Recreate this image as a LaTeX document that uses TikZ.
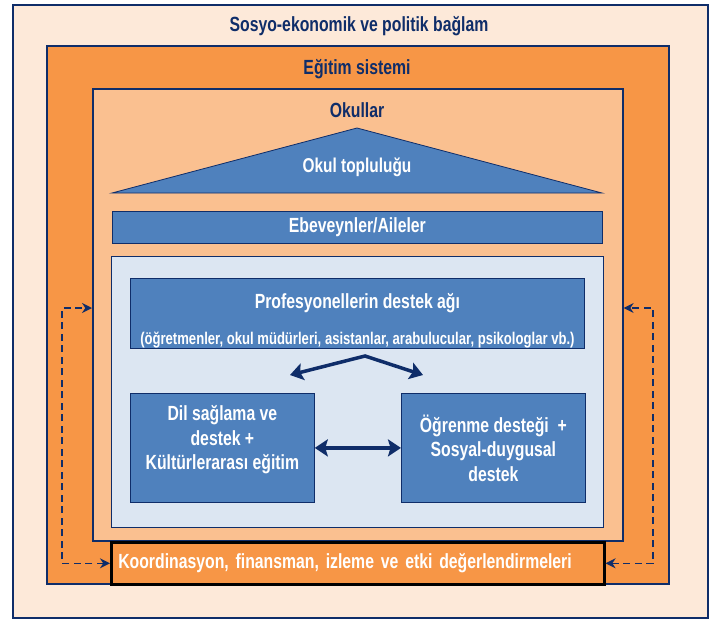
\documentclass[tikz,border=0pt]{standalone}
\usepackage{fontspec}
\setmainfont{Liberation Sans}[FakeStretch=0.77]
\usetikzlibrary{arrows.meta}
\definecolor{navy}{HTML}{0F2D69}
\definecolor{peach}{HTML}{FDE9D9}
\definecolor{orng}{HTML}{F79646}
\definecolor{lorng}{HTML}{FAC090}
\definecolor{steel}{HTML}{4F81BD}
\definecolor{ice}{HTML}{DCE6F2}
\begin{document}
\begin{tikzpicture}[x=1pt,y=-1pt,font=\bfseries,
	layer/.style={draw=navy,line width=1.6pt,anchor=north west,inner sep=0pt},
	bluebox/.style={draw=navy,fill=steel,line width=0.8pt,anchor=north west,text=white,inner sep=0pt,align=center,font=\bfseries\fontsize{20.5}{24.5}\selectfont},
	heading/.style={text=navy,font=\bfseries\fontsize{20.5}{24}\selectfont},
	twoway/.style={navy,line width=3.5pt,{Stealth[length=13pt,width=17pt,inset=2.5pt]}-{Stealth[length=13pt,width=17pt,inset=2.5pt]}},
	feedback/.style={navy,line width=1.6pt,dash pattern=on 7pt off 4.5pt,{Stealth[length=10pt,width=10pt]}-{Stealth[length=10pt,width=10pt]}}]
	\fill[white] (0,0) rectangle (718,619);
	\path[use as bounding box] (0,0) rectangle (718,619);
	\node[layer,fill=peach,minimum width=695pt,minimum height=613pt] (ctx) at (12,4) {};
	\node[heading] (ctxT) at (359,26) {Sosyo-ekonomik ve politik bağlam};
	\node[layer,fill=orng,minimum width=622pt,minimum height=538pt] (sys) at (46,45) {};
	\node[heading] (sysT) at (357,69) {Eğitim sistemi};
	\node[layer,fill=lorng,minimum width=530pt,minimum height=452pt] (schools) at (92,88) {};
	\node[heading] (schoolsT) at (357,110) {Okullar};
	\draw[navy,fill=steel,line width=0.8pt] (112,193) -- (357,128) -- (602,193) -- cycle;
	\node[text=white,font=\bfseries\fontsize{20}{24}\selectfont] (community) at (357,167) {Okul topluluğu};
	\node[bluebox,minimum width=490pt,minimum height=32pt] (parents) at (112,211) {Ebeveynler/Aileler};
	\node[draw=navy,fill=ice,line width=0.8pt,anchor=north west,minimum width=492pt,minimum height=271pt] (support) at (111,256) {};
	\node[bluebox,minimum width=454pt,minimum height=70pt] (prof) at (130,278) {\rule{0pt}{30pt}Profesyonellerin destek ağı\\[11pt]{\fontsize{17}{24}\selectfont(öğretmenler, okul müdürleri, asistanlar, arabulucular, psikologlar vb.)}};
	\node[bluebox,minimum width=184pt,minimum height=109pt] (lang) at (130,393) {Dil sağlama ve\\destek +\\ Kültürlerarası eğitim\\[-4pt]};
	\node[bluebox,minimum width=184pt,minimum height=109pt] (learn) at (401,393) {Öğrenme desteği~ +\\Sosyal-duygusal\\destek};
	\node[layer,draw=black,line width=2.6pt,fill=orng,minimum height=42pt,text width=479pt,inner xsep=7pt,align=left,text=white,font=\bfseries\fontsize{20.5}{24}\selectfont] (coord) at (110,541) {Koordinasyon, finansman, izleme ve etki değerlendirmeleri};
	\coordinate (apex) at (365,356);
	\coordinate (vl) at (290,375);
	\coordinate (vr) at (423,375);
	\draw[twoway] (vl) -- (apex) -- (vr);
	\draw[twoway] (lang.east) -- (learn.west);
	\coordinate (lhook) at (62,308);
	\coordinate (rhook) at (653,308);
	\draw[feedback] (coord.west) -| (lhook) -- (schools.west |- lhook);
	\draw[feedback] (coord.east) -| (rhook) -- (schools.east |- rhook);
\end{tikzpicture}
\end{document}
